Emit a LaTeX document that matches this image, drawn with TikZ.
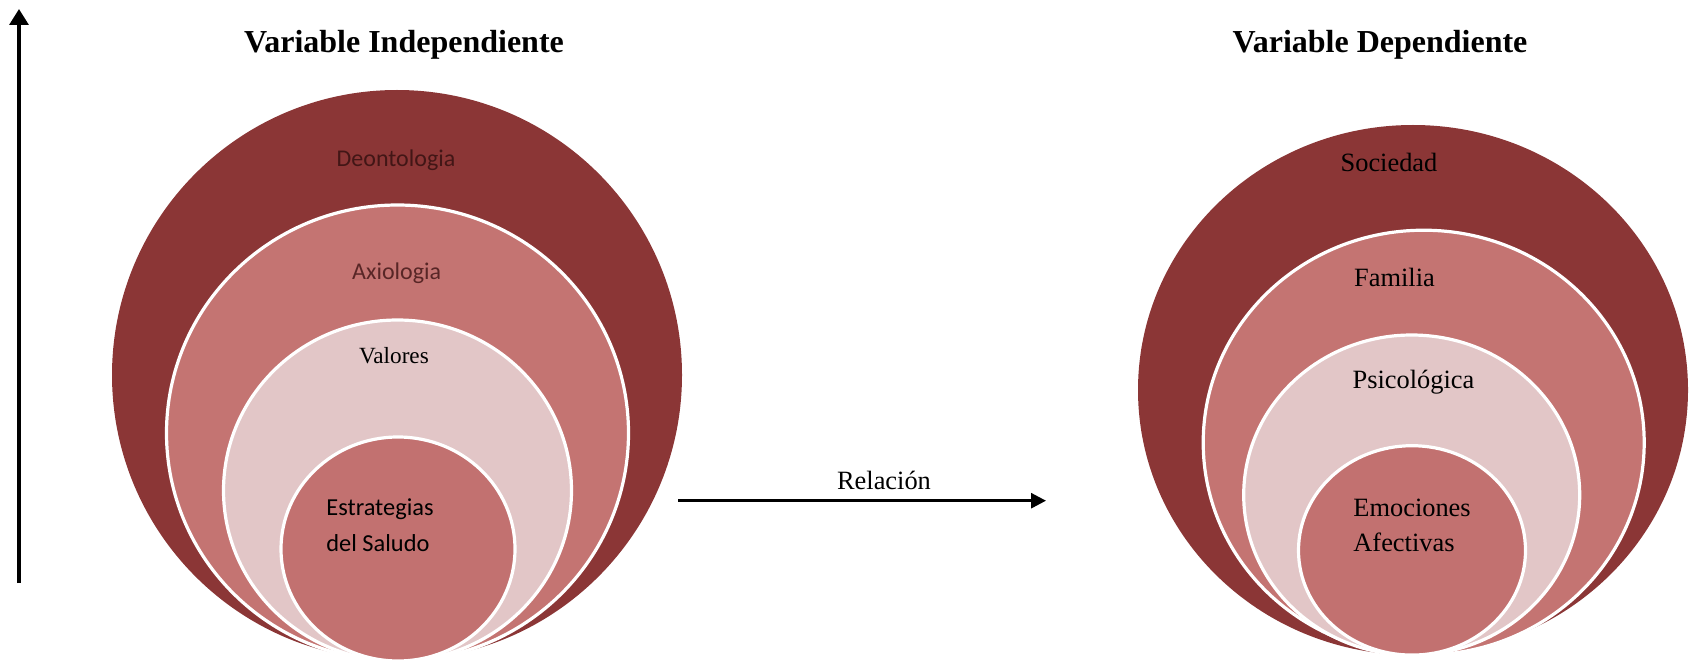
\documentclass[tikz,border=0pt]{standalone}
\usepackage{fontspec}
\setmainfont{Liberation Serif}
\newfontfamily\calibri{Carlito}
\usetikzlibrary{arrows.meta}
\definecolor{ringdark}{RGB}{139,54,54}
\definecolor{ringmid}{RGB}{196,116,114}
\definecolor{ringlight}{RGB}{226,198,199}
\definecolor{ringcore}{RGB}{194,113,112}
\definecolor{labeldark}{RGB}{66,22,22}
\definecolor{labelmid}{RGB}{88,38,38}
\begin{document}
\begin{tikzpicture}[x=0.5pt,y=-0.5pt,
    ring/.style={draw=white,line width=1.6pt},
    lbl/.style={anchor=base,inner sep=0pt},
    tnr/.style={lbl,font=\fontsize{13.2}{16}\selectfont},
    cal/.style={lbl,font=\calibri\fontsize{12}{14}\selectfont},
    title/.style={lbl,font=\fontsize{16}{19}\selectfont\bfseries},
    arrowline/.style={line width=1.4pt,-{Triangle[length=7.5pt,width=7.5pt]}}]
    \useasboundingbox (0,0) rectangle (1708,663);

    \fill[ringdark] (397,375) ellipse [x radius=285, y radius=285];
    \fill[ringmid,ring] (397.5,433) ellipse [x radius=231, y radius=228];
    \fill[ringlight,ring] (397.5,490.5) ellipse [x radius=174, y radius=170.5];
    \fill[ringcore,ring] (398,549) ellipse [x radius=117, y radius=112];

    \fill[ringdark] (1413,390) ellipse [x radius=275, y radius=265];
    \fill[ringmid,ring] (1423.7,442.6) ellipse [x radius=220.5, y radius=212.4];
    \fill[ringlight,ring] (1411.7,495) ellipse [x radius=168, y radius=160];
    \fill[ringcore,ring] (1412,550.4) ellipse [x radius=113.5, y radius=104.7];

    \node[title] (indep) at (404,53) {Variable Independiente};
    \node[title] (dep) at (1380,53) {Variable Dependiente};

    \node[cal,text=labeldark] (deonto) at (396,167) {Deontologia};
    \node[cal,text=labelmid] (axio) at (396.7,280) {Axiologia};
    \node[tnr,font=\fontsize{11.6}{14}\selectfont] (valores) at (394,364) {Valores};
    \node[cal,anchor=base west,align=left,font=\calibri\fontsize{12.2}{18.3}\selectfont] (estrat) at (326,551.7) {Estrategias\\del Saludo};

    \node[tnr] (sociedad) at (1389,172) {Sociedad};
    \node[tnr] (familia) at (1394.5,286.6) {Familia};
    \node[tnr] (psico) at (1413.5,388.5) {Psicológica};
    \node[tnr,anchor=base west,align=left,font=\fontsize{13.2}{17.2}\selectfont] (emoc) at (1353,551.3) {Emociones\\Afectivas};

    \node[tnr] (relacion) at (884,489) {Relación};
    \coordinate (relstart) at (678,500.7);
    \coordinate (relend) at (1046,500.7);
    \draw[arrowline] (relstart) -- (relend);

    \coordinate (axisbot) at (19,583);
    \coordinate (axistop) at (19,9);
    \draw[arrowline,line width=1.6pt,-{Triangle[length=8pt,width=9.5pt]}] (axisbot) -- (axistop);

\end{tikzpicture}
\end{document}
